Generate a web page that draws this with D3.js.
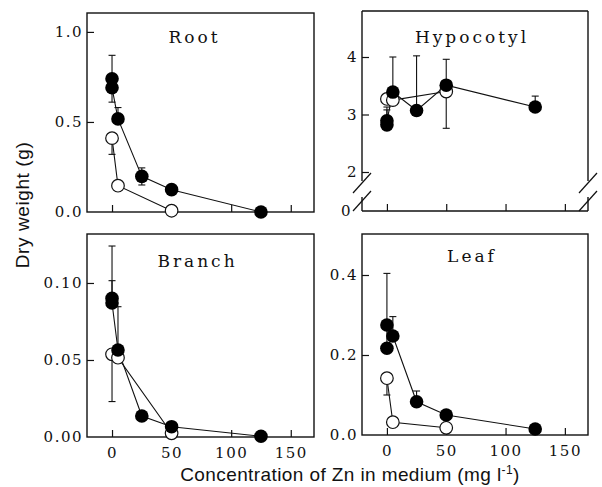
<!DOCTYPE html>
<html>
<head>
<meta charset="utf-8">
<script src="https://cdn.jsdelivr.net/npm/d3@7"></script>
<style>
  body { margin: 0; background: #fff; }
  svg { display: block; }
  .tick text { font-family: "DejaVu Serif", serif; font-size: 15px; letter-spacing: 1.5px; fill: #111; }
  .title { font-family: "DejaVu Serif", serif; font-size: 17px; letter-spacing: 3px; fill: #111; }
  .axis-title { font-family: "Liberation Sans", Arial, sans-serif; font-size: 19px; fill: #111; }
</style>
</head>
<body>
<svg width="602" height="487"></svg>
<script>
const svg = d3.select("svg")

// x ticks shared by every panel
const xTicks = [0, 50, 100, 150]

// Root
const rootFilledX = [0, 0, 5, 25, 50, 125]
const rootFilledY = [0.74, 0.69, 0.517, 0.198, 0.124, 0.0]
const rootFilledHi = [0.87, null, 0.58, 0.245, null, null]
const rootFilledLo = [null, 0.61, null, 0.15, null, null]
const rootOpenX = [0, 5, 50]
const rootOpenY = [0.41, 0.146, 0.007]
const rootOpenHi = [null, null, null]
const rootOpenLo = [0.32, null, null]
const rootYTicks = [0, 0.5, 1.0]

// Hypocotyl
const hypFilledX = [0, 0, 5, 25, 50, 125]
const hypFilledY = [2.82, 2.89, 3.39, 3.07, 3.51, 3.13]
const hypFilledHi = [3.08, 3.13, 4.0, 4.02, 3.96, 3.32]
const hypFilledLo = [null, null, null, null, null, null]
const hypOpenX = [0, 5, 50]
const hypOpenY = [3.27, 3.25, 3.40]
const hypOpenHi = [null, null, null]
const hypOpenLo = [null, null, 2.76]
const hypYTicks = [0, 2, 3, 4]

// Branch
const branchFilledX = [0, 0, 5, 25, 50, 125]
const branchFilledY = [0.090, 0.087, 0.0565, 0.0136, 0.0067, 0.0005]
const branchFilledHi = [0.124, 0.1015, 0.0846, null, null, null]
const branchFilledLo = [null, null, null, null, null, null]
const branchOpenX = [0, 5, 50]
const branchOpenY = [0.0537, 0.0515, 0.0024]
const branchOpenHi = [null, null, null]
const branchOpenLo = [0.023, null, null]
const branchYTicks = [0, 0.05, 0.10]

// Leaf
const leafFilledX = [0, 0, 5, 25, 50, 125]
const leafFilledY = [0.275, 0.217, 0.2475, 0.083, 0.05, 0.015]
const leafFilledHi = [0.404, null, 0.296, 0.11, null, null]
const leafFilledLo = [null, null, null, null, null, null]
const leafOpenX = [0, 5, 50]
const leafOpenY = [0.142, 0.032, 0.018]
const leafOpenHi = [null, null, null]
const leafOpenLo = [0.10, null, null]
const leafYTicks = [0, 0.2, 0.4]

const series = (x, y, hi, lo) => x.map((d, i) => ({ x: d, y: y[i], hi: hi[i], lo: lo[i] }))

const panels = [
    { name: "Root", box: [87, 314, 13, 212], yDomain: [0, 1.105], yTicks: rootYTicks, fmt: ".1f",
      filled: series(rootFilledX, rootFilledY, rootFilledHi, rootFilledLo),
      open: series(rootOpenX, rootOpenY, rootOpenHi, rootOpenLo), titleDx: -6, titleDy: 30, xLabels: false },
    { name: "Hypocotyl", box: [362, 588, 11, 211], yDomain: [0, 2, 4.8], yTicks: hypYTicks, fmt: "d",
      filled: series(hypFilledX, hypFilledY, hypFilledHi, hypFilledLo),
      open: series(hypOpenX, hypOpenY, hypOpenHi, hypOpenLo), titleDx: -3, titleDy: 32, xLabels: false, broken: true },
    { name: "Branch", box: [87, 314, 234, 437], yDomain: [0, 0.1318], yTicks: branchYTicks, fmt: ".2f",
      filled: series(branchFilledX, branchFilledY, branchFilledHi, branchFilledLo),
      open: series(branchOpenX, branchOpenY, branchOpenHi, branchOpenLo), titleDx: -3, titleDy: 33, xLabels: true },
    { name: "Leaf", box: [362, 588, 234, 435], yDomain: [0, 0.5025], yTicks: leafYTicks, fmt: ".1f",
      filled: series(leafFilledX, leafFilledY, leafFilledHi, leafFilledLo),
      open: series(leafOpenX, leafOpenY, leafOpenHi, leafOpenLo), titleDx: -3, titleDy: 28, xLabels: true }
]

panels.forEach(p => {
    const [x0, x1, y0, y1] = p.box
    const x = d3.scaleLinear().domain([-21, 169.5]).range([x0, x1])
    const yRange = p.yDomain.length === 3 ? [y1, y1 - 39, y0] : [y1, y0]
    const y = d3.scaleLinear().domain(p.yDomain).range(yRange)
    const g = svg.append("g")

    // frame
    const frame = g.append("g").attr("stroke", "#111").attr("stroke-width", 1.4).attr("fill", "none")
    if (p.broken) {
        frame.append("line").attr("x1", x0).attr("x2", x1).attr("y1", y0).attr("y2", y0)
        frame.append("line").attr("x1", x0).attr("x2", x1).attr("y1", y1).attr("y2", y1)
        ;[x0, x1].forEach(xx => {
            frame.append("line").attr("x1", xx).attr("x2", xx).attr("y1", y0).attr("y2", y1 - 30)
            frame.append("line").attr("x1", xx).attr("x2", xx).attr("y1", y1 - 14).attr("y2", y1)
            ;[y1 - 28, y1 - 10].forEach(cy => {
                frame.append("line").attr("stroke-width", 1.2)
                    .attr("x1", xx - 9).attr("y1", cy + 10)
                    .attr("x2", xx + 9).attr("y2", cy - 10)
            })
        })
    } else {
        frame.append("rect").attr("x", x0).attr("y", y0).attr("width", x1 - x0).attr("height", y1 - y0)
    }

    // axes with inward ticks
    const yAxis = g.append("g").attr("transform", `translate(${x0},0)`)
        .call(d3.axisLeft(y).tickValues(p.yTicks).tickSize(-7).tickPadding(4).tickFormat(d3.format(p.fmt)))
    yAxis.select(".domain").remove()
    yAxis.selectAll(".tick line").attr("stroke", "#111").attr("stroke-width", 1.2)
        .filter(d => d === 0).remove()
    if (p.broken) yAxis.selectAll(".tick text").filter(d => d === 0).attr("dx", -6)

    const xAxis = g.append("g").attr("transform", `translate(0,${y1})`)
        .call(d3.axisBottom(x).tickValues(xTicks).tickSize(-7).tickPadding(10))
    xAxis.select(".domain").remove()
    xAxis.selectAll(".tick line").attr("stroke", "#111").attr("stroke-width", 1.2)
    if (!p.xLabels) xAxis.selectAll(".tick text").remove()

    // title
    g.append("text").attr("class", "title")
        .attr("x", (x0 + x1) / 2 + p.titleDx).attr("y", y0 + p.titleDy)
        .attr("text-anchor", "middle").text(p.name)

    const line = d3.line().x(d => x(d.x)).y(d => y(d.y))

    ;[p.open, p.filled].forEach(s => {
        g.append("path").datum(s).attr("d", line)
            .attr("fill", "none").attr("stroke", "#111").attr("stroke-width", 1.1)
    })

    // error bars
    ;[p.open, p.filled].forEach(s => {
        s.forEach(d => {
            ;["hi", "lo"].forEach(k => {
                if (d[k] == null) return
                g.append("line").attr("x1", x(d.x)).attr("x2", x(d.x))
                    .attr("y1", y(d.y)).attr("y2", y(d[k]))
                    .attr("stroke", "#111").attr("stroke-width", 1.1)
                g.append("line").attr("x1", x(d.x) - 3.5).attr("x2", x(d.x) + 3.5)
                    .attr("y1", y(d[k])).attr("y2", y(d[k]))
                    .attr("stroke", "#111").attr("stroke-width", 1.1)
            })
        })
    })

    g.selectAll("circle.open").data(p.open).enter().append("circle")
        .attr("class", "open")
        .attr("cx", d => x(d.x)).attr("cy", d => y(d.y)).attr("r", 6.3)
        .attr("fill", "#fff").attr("stroke", "#111").attr("stroke-width", 1.2)

    g.selectAll("circle.filled").data(p.filled).enter().append("circle")
        .attr("class", "filled")
        .attr("cx", d => x(d.x)).attr("cy", d => y(d.y)).attr("r", 6.8)
        .attr("fill", "#000")
})

// axis titles
svg.append("text").attr("class", "axis-title")
    .attr("transform", "translate(29,205) rotate(-90)")
    .attr("text-anchor", "middle").style("letter-spacing", "0.6px")
    .text("Dry weight (g)")

const xt = svg.append("text").attr("class", "axis-title")
    .attr("x", 350).attr("y", 481).attr("text-anchor", "middle").style("letter-spacing", "0.4px")
xt.append("tspan").text("Concentration of Zn in medium (mg l")
xt.append("tspan").attr("dy", -7).style("font-size", "12px").text("-1")
xt.append("tspan").attr("dy", 7).text(")")
</script>
</body>
</html>
